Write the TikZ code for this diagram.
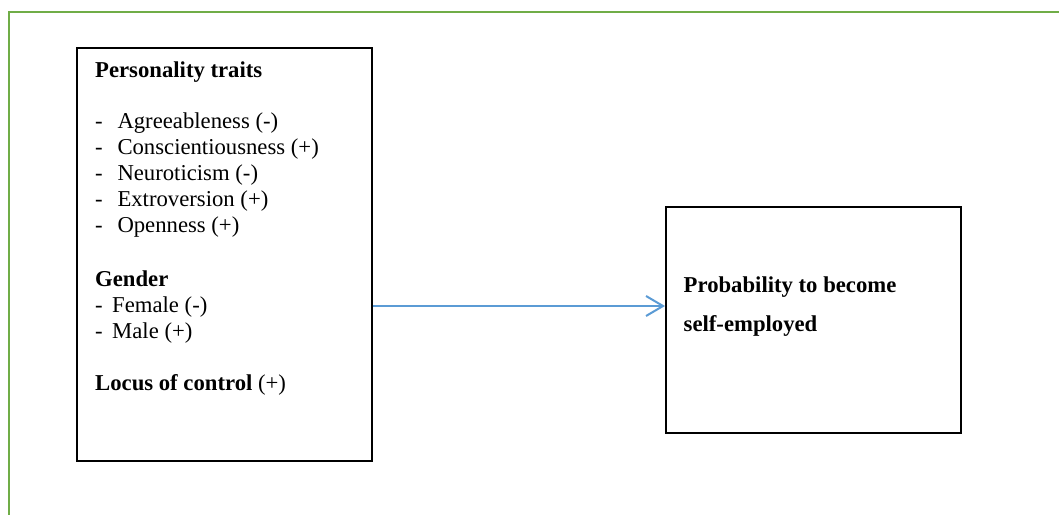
\documentclass[tikz,border=0pt]{standalone}
\usepackage{fontspec}
\setmainfont{Liberation Serif}
\usetikzlibrary{arrows.meta}
\definecolor{framegreen}{HTML}{70AD47}
\definecolor{arrowblue}{HTML}{5B9BD5}
\tikzset{
  boxnode/.style={draw=black, line width=1.9pt, fill=none, inner sep=0pt, anchor=north west},
  txt/.style={inner sep=0pt, anchor=base west, font=\fontsize{22.7}{26}\selectfont},
  btxt/.style={txt, font=\fontsize{22.7}{26}\selectfont\bfseries},
  flow/.style={draw=arrowblue, line width=2pt, -{Straight Barb[length=17pt, width=20pt, line width=2pt]}},
  frame/.style={draw=framegreen, line width=2.6pt}
}
\begin{document}
\begin{tikzpicture}[x=1pt, y=-1pt]
\useasboundingbox (0,0) rectangle (1059,514);
\fill[white] (0,0) rectangle (1059,514);
\draw[frame] (9,516) -- (9,12) -- (1062,12);
% boxes
\node[boxnode, minimum width=295pt, minimum height=413pt] (left) at (76,47) {};
\node[boxnode, minimum width=295pt, minimum height=226pt] (right) at (665,206) {};
% left texts
\node[btxt] (pt) at (95,77.7) {Personality traits};
\node[txt] (d1) at (95,128.3) {-};
\node[txt] (t1) at (117.3,128.3) {Agreeableness (-)};
\node[txt] (d2) at (95,154.3) {-};
\node[txt] (t2) at (117.3,154.3) {Conscientiousness (+)};
\node[txt] (d3) at (95,180.2) {-};
\node[txt] (t3) at (117.3,180.2) {Neuroticism (-)};
\node[txt] (d4) at (95,206.4) {-};
\node[txt] (t4) at (117.3,206.4) {Extroversion (+)};
\node[txt] (d5) at (95,232.6) {-};
\node[txt] (t5) at (117.3,232.6) {Openness (+)};
\node[btxt] (gen) at (95,286) {Gender};
\node[txt] (gd1) at (95,312) {-};
\node[txt] (g1) at (112,312) {Female (-)};
\node[txt] (gd2) at (95,338) {-};
\node[txt] (g2) at (112,338) {Male (+)};
\node[txt] (loc) at (95,390) {\bfseries Locus of control \mdseries(+)};
% right texts
\node[btxt] (p1) at (683.5,292.5) {Probability to become};
\node[btxt] (p2) at (683.5,331) {self-employed};
% arrow
\coordinate (ay) at (0,306);
\draw[flow] (left.east |- ay) -- (right.west |- ay);
\end{tikzpicture}
\end{document}
